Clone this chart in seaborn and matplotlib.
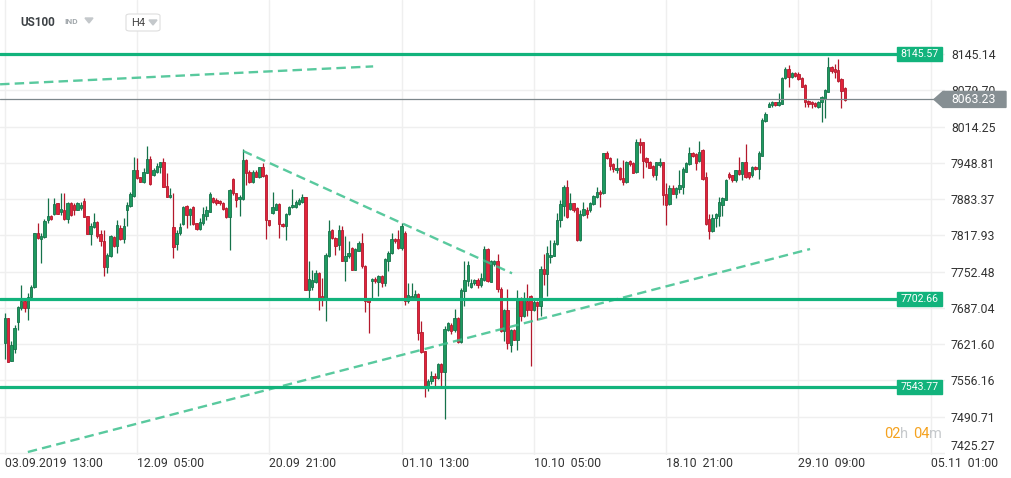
import numpy as np
import pandas as pd
import seaborn as sns
import matplotlib.pyplot as plt
from matplotlib.patches import Rectangle, Polygon, FancyBboxPatch
from matplotlib.transforms import blended_transform_factory

# H4 candles
opens = [7623, 7669, 7591, 7613, 7661, 7687, 7699, 7687, 7707, 7724, 7822, 7811, 7815, 7845, 7853, 7857, 7876, 7861, 7864, 7848,
         7877, 7873, 7863, 7867, 7880, 7853, 7820, 7833, 7842, 7821, 7808, 7760, 7781, 7815, 7798, 7831, 7811, 7863, 7871, 7889,
         7936, 7923, 7915, 7930, 7955, 7926, 7933, 7941, 7950, 7907, 7887, 7833, 7803, 7822, 7839, 7871, 7854, 7870, 7840, 7829,
         7840, 7853, 7861, 7885, 7882, 7880, 7877, 7867, 7851, 7919, 7894, 7883, 7883, 7954, 7932, 7915, 7932, 7923, 7941, 7926,
         7846, 7858, 7864, 7874, 7839, 7834, 7857, 7869, 7870, 7875, 7879, 7887, 7719, 7725, 7733, 7750, 7709, 7703, 7780, 7827,
         7813, 7800, 7827, 7772, 7780, 7795, 7756, 7790, 7805, 7763, 7702, 7735, 7740, 7733, 7745, 7732, 7772, 7786, 7812, 7812,
         7795, 7823, 7699, 7703, 7705, 7712, 7643, 7609, 7543, 7555, 7565, 7561, 7585, 7571, 7648, 7657, 7647, 7669, 7625, 7718,
         7736, 7724, 7732, 7738, 7729, 7738, 7793, 7734, 7766, 7772, 7722, 7645, 7684, 7621, 7648, 7630, 7705, 7672, 7699, 7709,
         7683, 7697, 7690, 7757, 7749, 7779, 7780, 7803, 7845, 7871, 7905, 7866, 7876, 7867, 7809, 7855, 7864, 7864, 7875, 7887,
         7896, 7894, 7966, 7957, 7947, 7935, 7939, 7921, 7915, 7953, 7949, 7932, 7987, 7986, 7957, 7951, 7944, 7926, 7945, 7950,
         7893, 7875, 7903, 7893, 7902, 7906, 7933, 7947, 7966, 7965, 7953, 7972, 7923, 7848, 7825, 7849, 7852, 7873, 7882, 7929,
         7926, 7917, 7935, 7929, 7950, 7932, 7926, 7942, 7938, 7962, 8025, 8050, 8053, 8058, 8053, 8055, 8101, 8119, 8103, 8110,
         8109, 8101, 8089, 8061, 8059, 8056, 8050, 8058, 8064, 8077, 8121, 8118, 8116, 8100, 8083]
highs = [7678, 7669, 7627, 7657, 7690, 7729, 7705, 7714, 7729, 7822, 7840, 7822, 7847, 7885, 7855, 7885, 7876, 7894, 7895, 7879,
         7879, 7876, 7879, 7879, 7885, 7853, 7840, 7859, 7843, 7828, 7828, 7786, 7819, 7816, 7846, 7837, 7849, 7879, 7897, 7959,
         7957, 7923, 7939, 7979, 7961, 7939, 7948, 7951, 7957, 7930, 7903, 7894, 7828, 7840, 7871, 7873, 7867, 7871, 7841, 7850,
         7869, 7871, 7897, 7888, 7885, 7882, 7879, 7870, 7901, 7921, 7895, 7891, 7973, 7955, 7935, 7935, 7936, 7942, 7949, 7928,
         7846, 7897, 7876, 7876, 7840, 7859, 7871, 7901, 7882, 7885, 7893, 7888, 7771, 7756, 7756, 7751, 7741, 7786, 7845, 7829,
         7815, 7837, 7835, 7817, 7807, 7797, 7795, 7807, 7822, 7764, 7703, 7741, 7742, 7747, 7747, 7777, 7789, 7822, 7813, 7828,
         7840, 7825, 7732, 7732, 7720, 7714, 7663, 7609, 7558, 7573, 7570, 7588, 7587, 7654, 7661, 7659, 7685, 7670, 7723, 7771,
         7772, 7739, 7740, 7741, 7750, 7798, 7795, 7773, 7774, 7785, 7724, 7685, 7721, 7649, 7649, 7719, 7707, 7715, 7731, 7711,
         7705, 7699, 7762, 7785, 7798, 7810, 7810, 7859, 7882, 7909, 7918, 7895, 7877, 7869, 7864, 7879, 7869, 7879, 7891, 7906,
         7900, 7967, 7970, 7959, 7948, 7957, 7941, 7954, 7952, 7954, 7951, 7992, 7993, 7987, 7959, 7953, 7945, 7951, 7957, 7951,
         7912, 7908, 7908, 7905, 7936, 7942, 7951, 7977, 7969, 7966, 7989, 7974, 7933, 7857, 7857, 7858, 7888, 7888, 7920, 7932,
         7927, 7936, 7959, 7951, 7983, 7933, 7944, 7944, 7971, 8029, 8041, 8058, 8061, 8059, 8074, 8103, 8122, 8125, 8112, 8112,
         8112, 8103, 8091, 8062, 8061, 8058, 8061, 8070, 8082, 8140, 8124, 8128, 8137, 8101, 8085]
lows = [7594, 7590, 7591, 7606, 7648, 7683, 7679, 7666, 7705, 7723, 7811, 7769, 7813, 7840, 7846, 7855, 7857, 7855, 7846, 7840,
        7853, 7855, 7863, 7864, 7851, 7820, 7800, 7831, 7813, 7799, 7744, 7750, 7779, 7797, 7787, 7810, 7804, 7834, 7870, 7888,
        7919, 7915, 7913, 7930, 7909, 7925, 7930, 7930, 7906, 7887, 7885, 7777, 7792, 7818, 7837, 7832, 7836, 7836, 7828, 7828,
        7836, 7846, 7860, 7876, 7873, 7873, 7863, 7849, 7791, 7891, 7870, 7852, 7882, 7909, 7912, 7913, 7923, 7921, 7924, 7812,
        7835, 7857, 7863, 7814, 7833, 7809, 7855, 7867, 7867, 7873, 7877, 7719, 7705, 7720, 7732, 7684, 7691, 7664, 7779, 7811,
        7783, 7792, 7771, 7735, 7777, 7755, 7755, 7789, 7759, 7679, 7642, 7705, 7732, 7708, 7724, 7726, 7753, 7784, 7805, 7793,
        7792, 7693, 7696, 7701, 7702, 7630, 7606, 7526, 7538, 7549, 7547, 7558, 7546, 7486, 7645, 7640, 7643, 7624, 7624, 7691,
        7726, 7723, 7729, 7723, 7725, 7736, 7733, 7733, 7762, 7715, 7643, 7627, 7613, 7607, 7629, 7612, 7663, 7671, 7672, 7583,
        7681, 7666, 7672, 7729, 7708, 7768, 7780, 7801, 7833, 7852, 7849, 7864, 7861, 7807, 7807, 7853, 7849, 7861, 7873, 7885,
        7869, 7893, 7955, 7936, 7933, 7931, 7918, 7909, 7913, 7944, 7931, 7930, 7966, 7921, 7941, 7939, 7924, 7917, 7942, 7873,
        7836, 7873, 7893, 7885, 7894, 7893, 7932, 7945, 7960, 7935, 7951, 7917, 7837, 7812, 7824, 7833, 7834, 7852, 7881, 7920,
        7915, 7915, 7927, 7918, 7921, 7920, 7924, 7936, 7920, 7962, 8023, 8049, 8050, 8052, 8052, 8055, 8100, 8086, 8101, 8104,
        8098, 8085, 8049, 8050, 8047, 8049, 8047, 8023, 8029, 8077, 8110, 8101, 8095, 8047, 8061]
closes = [7669, 7590, 7621, 7651, 7689, 7699, 7687, 7707, 7724, 7822, 7813, 7816, 7844, 7853, 7848, 7874, 7857, 7866, 7848, 7876,
          7855, 7863, 7877, 7872, 7851, 7820, 7835, 7842, 7816, 7807, 7760, 7783, 7816, 7798, 7837, 7811, 7835, 7873, 7893, 7936,
          7921, 7915, 7932, 7955, 7910, 7936, 7943, 7950, 7906, 7887, 7891, 7797, 7823, 7833, 7870, 7854, 7865, 7839, 7829, 7842,
          7857, 7864, 7893, 7879, 7876, 7876, 7865, 7851, 7900, 7894, 7882, 7887, 7954, 7930, 7915, 7932, 7924, 7941, 7925, 7845,
          7836, 7870, 7874, 7838, 7834, 7857, 7869, 7873, 7879, 7881, 7887, 7719, 7739, 7737, 7750, 7705, 7703, 7783, 7825, 7813,
          7798, 7827, 7772, 7781, 7786, 7756, 7793, 7805, 7762, 7700, 7698, 7740, 7735, 7745, 7732, 7775, 7787, 7811, 7807, 7795,
          7835, 7699, 7711, 7709, 7712, 7642, 7607, 7543, 7556, 7564, 7561, 7585, 7571, 7649, 7660, 7645, 7669, 7625, 7720, 7738,
          7765, 7732, 7738, 7729, 7741, 7793, 7735, 7771, 7771, 7721, 7645, 7684, 7623, 7648, 7630, 7705, 7672, 7705, 7683, 7683,
          7697, 7690, 7757, 7749, 7787, 7783, 7804, 7846, 7875, 7905, 7851, 7876, 7864, 7809, 7856, 7865, 7857, 7877, 7889, 7897,
          7892, 7966, 7957, 7943, 7937, 7939, 7919, 7915, 7951, 7946, 7931, 7987, 7981, 7953, 7951, 7939, 7926, 7950, 7951, 7890,
          7873, 7903, 7893, 7903, 7908, 7938, 7948, 7966, 7962, 7948, 7969, 7920, 7839, 7825, 7849, 7857, 7879, 7885, 7918, 7923,
          7917, 7935, 7929, 7950, 7923, 7924, 7942, 7938, 7966, 8027, 8037, 8055, 8059, 8053, 8059, 8101, 8119, 8103, 8110, 8106,
          8100, 8086, 8058, 8055, 8055, 8052, 8059, 8068, 8080, 8121, 8115, 8112, 8097, 8079, 8063]

x_tick_pos = [0, 40, 80, 120, 160, 200, 240, 280]
x_tick_labels = ['03.09.2019  13:00', '12.09  05:00', '20.09  21:00', '01.10  13:00',
                 '10.10  05:00', '18.10  21:00', '29.10  09:00', '05.11  01:00']
y_ticks = [8145.14, 8079.70, 8014.25, 7948.81, 7883.37, 7817.93, 7752.48, 7687.04, 7621.60, 7556.16, 7490.71, 7425.27]

levels = [8145.57, 7702.66, 7543.77]
last_price = 8063.23

# drawn trend lines: (start index, end index), (start price, end price)
trend_top = ([-1.4, 111.4], [8090.5, 8122.8])
trend_down = ([72.1, 153.4], [7970.1, 7749.5])
trend_up = ([7.0, 243.5], [7427.1, 7793.3])

#%% style
sns.set_theme(style='whitegrid')
plt.rcParams['font.family'] = ['Roboto', 'DejaVu Sans']

green = '#12b37c'
up_face, up_edge = '#1d9a5f', '#15724a'
dn_face, dn_edge = '#e2233b', '#b3192c'
PX = 1.8042  # price units per pixel

df = pd.DataFrame({'open': opens, 'high': highs, 'low': lows, 'close': closes})
df['idx'] = np.arange(len(df))
rising = df['close'] >= df['open']

fig = plt.figure(figsize=(10.11, 4.78), dpi=100)
ax = fig.add_axes([0, 23 / 478, 945 / 1011, 455 / 478])

# candles
ax.vlines(df['idx'], df['low'], df['high'], colors=np.where(rising, up_edge, dn_edge), linewidth=0.9, zorder=3)
body_low = df[['open', 'close']].min(axis=1)
body_h = np.maximum((df['close'] - df['open']).abs(), 1.6)
ax.bar(df['idx'], body_h, bottom=body_low, width=0.72,
       color=np.where(rising, up_face, dn_face), edgecolor=np.where(rising, up_edge, dn_edge),
       linewidth=0.6, zorder=4)

# trend lines
for xs, ys in [trend_top, trend_down, trend_up]:
    ax.plot(xs, ys, color='#3cc08d', alpha=0.85, linewidth=1.7, dashes=(4, 2.2), zorder=5)

# horizontal levels with their price tags
trans = blended_transform_factory(ax.transAxes, ax.transData)
for lv in levels:
    ax.axhline(lv, xmin=0, xmax=897 / 945, color=green, linewidth=2.3, zorder=5)
    ax.add_patch(Rectangle((897 / 945, lv - 7 * PX), 45 / 945, 14 * PX, transform=trans,
                           color=green, clip_on=False, zorder=6))
    ax.text(919.5 / 945, lv, f'{lv:.2f}', transform=trans, color='white', fontsize=7.6,
            ha='center', va='center', zorder=7, clip_on=False)

# last price line and tag
ax.axhline(last_price, color='#7d878b', linewidth=0.9, zorder=5)
tag = [(934, 0), (943, 8), (1006, 8), (1006, -8), (943, -8)]
ax.add_patch(Polygon([(px / 945, last_price + dy * PX) for px, dy in tag], closed=True,
                     transform=trans, color='#868f93', clip_on=False, zorder=8))
ax.text(974 / 945, last_price, f'{last_price:.2f}', transform=trans, color='white',
        fontsize=8.8, ha='center', va='center', zorder=9, clip_on=False)

#%% axes
ax.set_xlim(-1.42, 284.3)
ax.set_ylim(7421.7, 8242.6)
ax.set_xticks(x_tick_pos)
ax.set_xticklabels(x_tick_labels, ha='left')
ax.set_yticks(y_ticks)
ax.set_yticklabels([f'{v:.2f}' for v in y_ticks])
ax.yaxis.tick_right()
ax.tick_params(axis='both', length=0, labelsize=8.8, colors='#333333')
ax.tick_params(axis='y', pad=4.3)
ax.tick_params(axis='x', pad=1.5)
ax.get_yticklabels()[-1].set_verticalalignment('bottom')
ax.grid(True, color='#efefef', linewidth=1.0)
ax.set_facecolor('white')
sns.despine(ax=ax, left=True, bottom=True, right=True, top=True)

#%% header and countdown
def fx(px):
    return px / 1011

def fy(py):
    return 1 - py / 478

fig.text(fx(20), fy(22), 'US100', fontsize=8.5, fontweight='bold', color='#3d4246', va='center')
fig.text(fx(64), fy(22), 'IND', fontsize=6, fontweight='bold', color='#a3a9ad', va='center')
fig.add_artist(Polygon([(fx(85), fy(18)), (fx(93), fy(18)), (fx(89), fy(23))], closed=True,
                       transform=fig.transFigure, color='#c4c8cb'))
fig.add_artist(FancyBboxPatch((fx(126), fy(31)), fx(34), 17 / 478, boxstyle='round,pad=0,rounding_size=0.004',
                              transform=fig.transFigure, facecolor='white', edgecolor='#dedede', linewidth=0.8))
fig.text(fx(131), fy(22.5), 'H4', fontsize=8, color='#444444', va='center')
fig.add_artist(Polygon([(fx(149), fy(20)), (fx(157), fy(20)), (fx(153), fy(25))], closed=True,
                       transform=fig.transFigure, color='#c4c8cb'))

orange, light = '#f5a21f', '#c6c9cc'
for px, txt, col in [(884, '02', orange), (900, 'h', light), (913, '04', orange), (929.5, 'm', light)]:
    fig.text(fx(px), fy(434), txt, fontsize=10.5, color=col, va='center')

plt.savefig('out.png', dpi=100)
